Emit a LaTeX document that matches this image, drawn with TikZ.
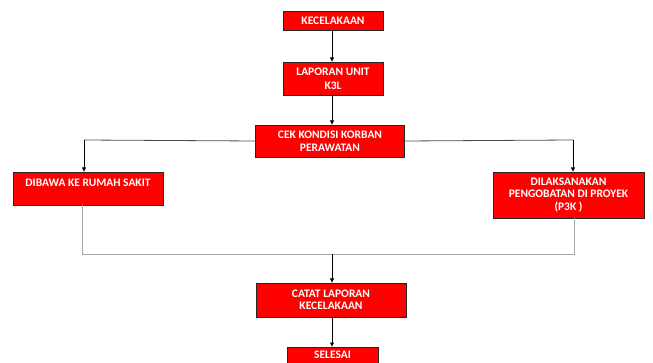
\documentclass[tikz,border=0pt]{standalone}
\usepackage{fontspec}
\setmainfont{Carlito}[BoldFont={Carlito Bold}]
\usetikzlibrary{arrows.meta}
\begin{document}
\begin{tikzpicture}[x=1pt,y=-1pt,
  flowbox/.style={draw=black!85, line width=0.9pt, fill=red, text=white,
    font=\fontsize{11.5}{12.5}\selectfont\bfseries, align=center,
    inner sep=0pt, outer sep=0pt},
  flow/.style={draw=black, line width=0.8pt, -{Latex[length=4.5pt,width=4.5pt]}},
  plainline/.style={draw=black!70, line width=0.8pt},
  merge/.style={draw=black!35, line width=0.9pt}]
  \useasboundingbox (0,0) rectangle (653,363);

  \node[flowbox, minimum width=100, minimum height=19] (kec) at (333,20.5) {KECELAKAAN};
  \node[flowbox, minimum width=100, minimum height=33,
        font=\fontsize{11.5}{14}\selectfont\bfseries] (lap) at (333,78.5) {LAPORAN UNIT\\K3L};
  \node[flowbox, minimum width=149, minimum height=32] (cek) at (330,141) {CEK KONDISI KORBAN\\PERAWATAN};
  \node[flowbox, minimum width=150, minimum height=33, text height=11.7pt, text depth=15.3pt] (dib) at (88,188.5) {DIBAWA KE RUMAH SAKIT};
  \node[flowbox, minimum width=151, minimum height=46] (dil) at (568.5,195) {DILAKSANAKAN\\PENGOBATAN DI PROYEK\\(P3K )};
  \node[flowbox, minimum width=150, minimum height=34] (cat) at (331,300) {CATAT LAPORAN\\KECELAKAAN};
  \node[flowbox, minimum width=91, minimum height=22, text height=9pt, text depth=8pt] (sel) at (332.5,358) {SELESAI};

  % branch points
  \coordinate (bl) at (84,140);
  \coordinate (br) at (573,140);
  \coordinate (ml) at (82,254);
  \coordinate (mr) at (574,254);
  \coordinate (mc) at (332,254);

  \draw[flow] (kec.south -| mc) -- (lap.north -| mc);
  \draw[flow] (lap.south -| mc) -- (cek.north -| mc);
  \draw[plainline] (cek.west) -- (bl);
  \draw[plainline] (cek.east) -- (br);
  \draw[flow] (bl) -- (dib.north -| bl);
  \draw[flow] (br) -- (dil.north -| br);
  \draw[merge] (dib.south -| ml) -- (ml) -- (mr) -- (dil.south -| mr);
  \draw[flow] (mc) -- (cat.north -| mc);
  \draw[flow] (cat.south -| mc) -- (sel.north -| mc);
\end{tikzpicture}
\end{document}
